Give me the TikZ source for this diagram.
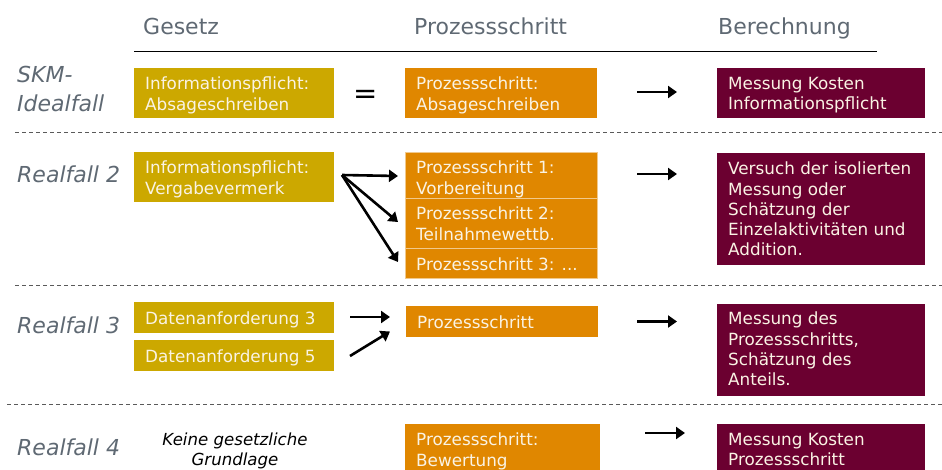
\documentclass[tikz,border=0pt]{standalone}
\usepackage{fontspec}
\setmainfont{DejaVu Sans}
\usetikzlibrary{arrows.meta}
\definecolor{gold}{RGB}{204,168,0}
\definecolor{orng}{RGB}{224,135,0}
\definecolor{marn}{RGB}{107,0,48}
\definecolor{hgray}{RGB}{95,105,115}
\definecolor{btxt}{RGB}{250,243,228}
\definecolor{sepgray}{RGB}{90,90,90}
\begin{document}
\begin{tikzpicture}[x=1pt,y=-1pt,
  box/.style={rectangle, inner sep=0pt, outer sep=0pt, anchor=north west},
  gbox/.style={box, fill=gold},
  obox/.style={box, fill=orng},
  mbox/.style={box, fill=marn},
  stackbox/.style={box, fill=orng, draw=orng!45!white, line width=0.8pt},
  btext/.style={inner sep=0pt, anchor=north west, align=left, text=btxt,
    font=\fontsize{16.8}{20.2}\selectfont, execute at begin node={\rule{0pt}{13pt}}},
  head/.style={inner sep=0pt, anchor=base west, text=hgray, font=\fontsize{22}{26}\selectfont},
  rowlab/.style={inner sep=0pt, anchor=base west, text=hgray, font=\fontsize{22}{28.4}\selectfont\itshape},
  sepline/.style={draw=sepgray, line width=1pt, dash pattern=on 4pt off 3pt},
  arr/.style={line width=2.6pt, -{Triangle[length=9pt,width=12pt]}},
]
\useasboundingbox (0,0) rectangle (942,469);
\clip (0,0) rectangle (942,469);

% headers
\node[head] (hG) at (143,34) {Gesetz};
\node[head] (hP) at (414,34) {Prozessschritt};
\node[head] (hB) at (718,34) {Berechnung};
\draw[line width=1.4pt] (134,51.7) -- (877,51.7);

% separators
\draw[sepline] (15,132) -- (942,132);
\draw[sepline] (15,285) -- (942,285);
\draw[sepline] (7,404) -- (942,404);

% row labels
\node[inner sep=0pt, anchor=north west, align=left, text=hgray,
  font=\fontsize{22}{28.4}\selectfont\itshape,
  execute at begin node={\rule{0pt}{17pt}}] (r1) at (17,66.3) {SKM-\\Idealfall};
\node[rowlab] (r2) at (17,182.7) {Realfall 2};
\node[rowlab] (r3) at (17,333.3) {Realfall 3};
\node[rowlab] (r4) at (17,455) {Realfall 4};

% ---- Row 1
\node[gbox, minimum width=200pt, minimum height=50pt] (g1) at (134,68) {};
\node[btext] (g1t) at ([xshift=11pt,yshift=-9pt]g1.north west) {Informationspflicht:\\Absageschreiben};
\node[inner sep=0pt, font=\fontsize{29}{29}\selectfont] (eq) at (366,97) {=};
\node[obox, minimum width=192pt, minimum height=50pt] (o1) at (405,68) {};
\node[btext] (o1t) at ([xshift=11pt,yshift=-9pt]o1.north west) {Prozessschritt:\\Absageschreiben};
\node[mbox, minimum width=208pt, minimum height=50pt] (m1) at (717,68) {};
\node[btext] (m1t) at ([xshift=11pt,yshift=-9pt]m1.north west) {Messung Kosten\\Informationspflicht};
\draw[arr] ([xshift=40pt,yshift=1pt]o1.east) -- ([xshift=-40pt,yshift=1pt]m1.west);

% ---- Row 2
\node[gbox, minimum width=200pt, minimum height=50pt] (g2) at (134,152) {};
\node[btext] (g2t) at ([xshift=11pt,yshift=-9pt]g2.north west) {Informationspflicht:\\Vergabevermerk};
\node[stackbox, minimum width=192pt, minimum height=46pt] (p1) at (405,152) {};
\node[stackbox, minimum width=192pt, minimum height=50pt] (p2) at (405,198) {};
\node[stackbox, minimum width=192pt, minimum height=30pt] (p3) at (405,248) {};
\node[btext] (p1t) at ([xshift=11pt,yshift=-9pt]p1.north west) {Prozessschritt 1:\\Vorbereitung};
\node[btext] (p2t) at ([xshift=11pt,yshift=-9pt]p2.north west) {Prozessschritt 2:\\Teilnahmewettb.};
\node[btext] (p3t) at ([xshift=11pt,yshift=-9pt]p3.north west) {Prozessschritt 3: ...};
\coordinate (fork) at ([xshift=8pt,yshift=2pt]g2.east);
\draw[arr] (fork) -- ([xshift=-7pt,yshift=-1pt]p1.west);
\draw[arr] (fork) -- ([xshift=-7pt,yshift=1pt]p2.west);
\draw[arr] (fork) -- ([xshift=-7pt,yshift=1pt]p3.west);
\node[mbox, minimum width=208pt, minimum height=112pt] (m2) at (717,153) {};
\node[btext] (m2t) at ([xshift=11pt,yshift=-9pt]m2.north west) {Versuch der isolierten\\Messung oder\\Schätzung der\\Einzelaktivitäten und\\Addition.};
\draw[arr] ([xshift=40pt,yshift=1pt]p1.east) -- ++(40,0);

% ---- Row 3
\node[gbox, minimum width=200pt, minimum height=31pt] (d3) at (134,302) {};
\node[btext] (d3t) at ([xshift=11pt,yshift=-9pt]d3.north west) {Datenanforderung 3};
\node[gbox, minimum width=200pt, minimum height=31pt] (d5) at (134,340) {};
\node[btext] (d5t) at ([xshift=11pt,yshift=-9pt]d5.north west) {Datenanforderung 5};
\node[obox, minimum width=192pt, minimum height=31pt] (p) at (406,306) {};
\node[btext] (pt) at ([xshift=11pt,yshift=-9pt]p.north west) {Prozessschritt};
\draw[arr] ([xshift=16pt,yshift=0.5pt]d3.east) -- ([xshift=-16pt,yshift=4.5pt]p.west);
\draw[arr] ([xshift=16pt,yshift=-0.5pt]d5.east) -- ([xshift=-16pt,yshift=-10pt]p.west);
\node[mbox, minimum width=208pt, minimum height=92pt] (m3) at (717,304) {};
\node[btext] (m3t) at ([xshift=11pt,yshift=-8pt]m3.north west) {Messung des\\Prozessschritts,\\Schätzung des\\Anteils.};
\draw[arr] ([xshift=39pt]p.east) -- ([xshift=-40pt]p.east -| m3.west);

% ---- Row 4
\node[inner sep=0pt, anchor=north, align=center, font=\fontsize{16.6}{20}\selectfont\itshape,
  execute at begin node={\rule{0pt}{13pt}}] (kg) at (235,432.7) {Keine gesetzliche\\Grundlage};
\node[obox, minimum width=195pt, minimum height=52pt] (p4) at (405,424) {};
\node[btext] (p4t) at ([xshift=11pt,yshift=-9pt]p4.north west) {Prozessschritt:\\Bewertung};
\node[mbox, minimum width=208pt, minimum height=52pt] (m4) at (717,424) {};
\node[btext] (m4t) at ([xshift=11pt,yshift=-9pt]m4.north west) {Messung Kosten\\Prozessschritt};
\draw[arr] ([xshift=45pt,yshift=-9pt]p4.north east) -- ++(40,0);
\end{tikzpicture}
\end{document}
